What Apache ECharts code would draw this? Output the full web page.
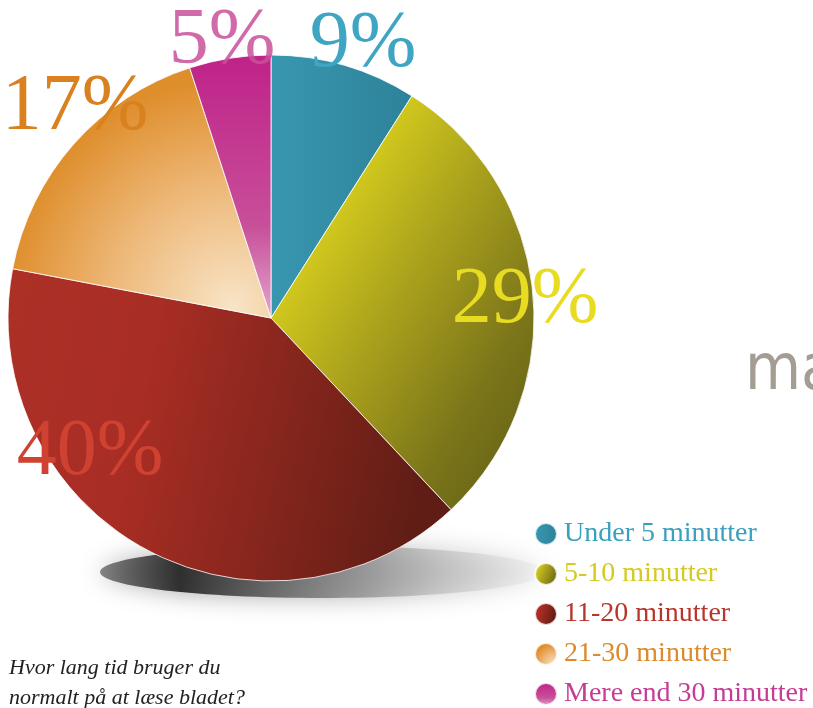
<!DOCTYPE html>
<html>
<head>
<meta charset="utf-8">
<script src="https://cdn.jsdelivr.net/npm/echarts@6/dist/echarts.min.js"></script>
<style>
  html, body { margin: 0; padding: 0; background: #fff; }
  #main { width: 813px; height: 708px; }
</style>
</head>
<body>
<div id="main"></div>
<script>
const categories = ['Under 5 minutter', '5-10 minutter', '11-20 minutter', '21-30 minutter', 'Mere end 30 minutter'];
const shares = [9, 29, 40, 17, 5];
const textColors = ['#3aa0bd', '#d6c91f', '#b8352b', '#dc8a2a', '#c53c94'];
const labelColors = ['#3ea5c3', '#e8dc22', '#cf4232', '#d9801f', '#c8509a'];

// fills roughly matching the glossy slices
const fills = [
    new echarts.graphic.LinearGradient(0, 0, 1, 0, [
        { offset: 0, color: '#3897b0' },
        { offset: 1, color: '#2d8299' }
    ]),
    new echarts.graphic.LinearGradient(0, 0.4, 1, 0.8, [
        { offset: 0, color: '#dcd31e' },
        { offset: 0.4, color: '#aaa21c' },
        { offset: 0.8, color: '#7a741a' },
        { offset: 1, color: '#6a6616' }
    ]),
    new echarts.graphic.LinearGradient(0, 0, 1, 0.3, [
        { offset: 0, color: '#ad3027' },
        { offset: 0.35, color: '#a82d24' },
        { offset: 0.7, color: '#82251c' },
        { offset: 1, color: '#5f1d15' }
    ]),
    new echarts.graphic.RadialGradient(0.85, 0.95, 0.9, [
        { offset: 0, color: '#f8e4c6' },
        { offset: 0.5, color: '#eebb7e' },
        { offset: 1, color: '#df8e2c' }
    ]),
    new echarts.graphic.LinearGradient(0, 0, 0, 1, [
        { offset: 0, color: '#bf2288' },
        { offset: 0.65, color: '#c84f9a' },
        { offset: 1, color: '#e2a6cc' }
    ])
];

const labelSpots = [[363, 45], [525, 301], [90, 453], [75, 108], [222, 42]];

const chart = echarts.init(document.getElementById('main'));

const option = {
    backgroundColor: '#fff',
    animation: false,
    title: {
        text: 'Hvor lang tid bruger du\nnormalt på at læse bladet?',
        left: 4,
        top: 648,
        textStyle: {
            fontFamily: 'Liberation Serif',
            fontStyle: 'italic',
            fontWeight: 'normal',
            fontSize: 22,
            lineHeight: 30,
            color: '#222'
        }
    },
    legend: {
        orient: 'vertical',
        left: 534,
        top: 520,
        padding: 0,
        itemWidth: 22,
        itemHeight: 22,
        itemGap: 12,
        icon: 'circle',
        data: categories.map((name, i) => ({
            name: name,
            textStyle: { color: textColors[i] }
        })),
        textStyle: {
            fontFamily: 'Liberation Serif',
            fontSize: 28,
            lineHeight: 28,
            padding: [0, 0, 0, 2]
        }
    },
    graphic: [
        {
            type: 'ellipse',
            z: 0,
            shape: { cx: 322, cy: 572, rx: 222, ry: 26 },
            style: {
                fill: new echarts.graphic.LinearGradient(0, 0, 1, 0, [
                    { offset: 0, color: 'rgba(60,60,60,0.6)' },
                    { offset: 0.18, color: 'rgba(40,40,40,0.95)' },
                    { offset: 0.6, color: 'rgba(140,140,140,0.75)' },
                    { offset: 1, color: 'rgba(225,225,225,0.25)' }
                ]),
                shadowBlur: 24,
                shadowColor: 'rgba(100,100,100,0.6)'
            }
        },
        {
            type: 'text',
            z: 0,
            left: 745,
            top: 340,
            style: {
                text: 'ma',
                font: '64px "Liberation Sans Narrow", "DejaVu Sans Condensed", sans-serif',
                fill: '#a39d94'
            }
        }
    ],
    series: [
        {
            type: 'pie',
            center: [271, 318],
            radius: 263,
            startAngle: 90,
            clockwise: true,
            z: 3,
            avoidLabelOverlap: false,
            itemStyle: {
                borderColor: 'rgba(255,255,255,0.8)',
                borderWidth: 1
            },
            label: {
                show: true,
                position: 'inside',
                overflow: 'none',
                formatter: '{c}%',
                fontFamily: 'Liberation Serif',
                fontSize: 80
            },
            labelLine: { show: false },
            labelLayout: (params) => ({
                x: labelSpots[params.dataIndex][0],
                y: labelSpots[params.dataIndex][1],
                align: 'center',
                verticalAlign: 'middle',
                hideOverlap: false,
                moveOverlap: null
            }),
            emphasis: { disabled: true },
            data: categories.map((name, i) => ({
                name: name,
                value: shares[i],
                itemStyle: { color: fills[i] },
                label: { color: labelColors[i], opacity: i === 4 ? 0.85 : 1 }
            }))
        }
    ]
};

chart.setOption(option);
</script>
</body>
</html>
